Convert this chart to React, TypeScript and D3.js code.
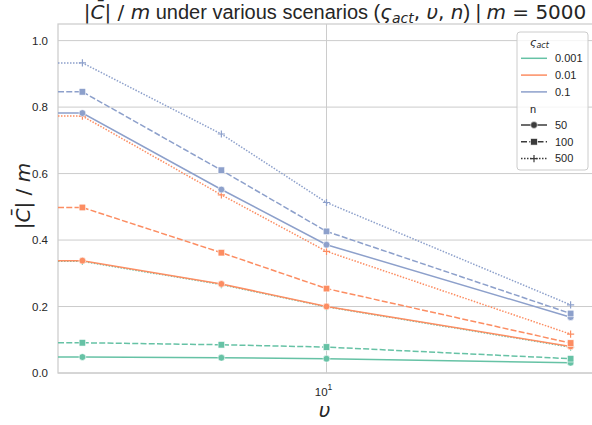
import React from "react";
import * as d3 from "d3";

const upsilon = [2, 5, 10, 50];
const actLevels = ["0.001", "0.01", "0.1"];
const nLevels = ["50", "100", "500"];
const actColors = ["#66c2a5", "#fc8d62", "#8da0cb"];
const yTicks = [0.0, 0.2, 0.4, 0.6, 0.8, 1.0];

const act0001_n50 = [0.048, 0.046, 0.043, 0.031];
const act0001_n100 = [0.091, 0.085, 0.078, 0.043];
const act0001_n500 = [0.336, 0.266, 0.199, 0.078];
const act001_n50 = [0.338, 0.268, 0.2, 0.08];
const act001_n100 = [0.498, 0.362, 0.254, 0.09];
const act001_n500 = [0.773, 0.536, 0.366, 0.117];
const act01_n50 = [0.782, 0.552, 0.386, 0.168];
const act01_n100 = [0.846, 0.61, 0.426, 0.179];
const act01_n500 = [0.933, 0.719, 0.513, 0.205];

const seriesValues = [
  [act0001_n50, act0001_n100, act0001_n500],
  [act001_n50, act001_n100, act001_n500],
  [act01_n50, act01_n100, act01_n500],
];

const W = 592;
const H = 425;
const left = 58;
const right = 595;
const top = 24;
const bottom = 373;

const LW = 1.5;
const dashes = ["", `${4 * LW},${1.5 * LW}`, `${1 * LW},${1 * LW}`];

const textFont = "'Liberation Sans', Arial, sans-serif";
const mathFont = "'DejaVu Sans', sans-serif";
const textColor = "#262626";
const gridColor = "#cccccc";

function Marker({ kind, x, y, color }: { kind: number; x: number; y: number; color: string }) {
  if (kind === 0) return <circle cx={x} cy={y} r={3.4} fill={color} stroke="#fff" strokeWidth={0.6} />;
  if (kind === 1)
    return <rect x={x - 3.3} y={y - 3.3} width={6.6} height={6.6} fill={color} stroke="#fff" strokeWidth={0.6} />;
  return (
    <path d={`M${x - 3.6},${y}H${x + 3.6}M${x},${y - 3.6}V${y + 3.6}`} stroke={color} strokeWidth={1.2} fill="none" />
  );
}

export default function App() {
  const lx = Math.log10(upsilon[0]);
  const hx = Math.log10(upsilon[upsilon.length - 1]);
  const m = (hx - lx) * 0.05;
  const x = d3.scaleLog().domain([Math.pow(10, lx - m), Math.pow(10, hx + m)]).range([left, right]);
  const y = d3.scaleLinear().domain([0, 1.05]).range([bottom, top]);
  const line = d3
    .line<[number, number]>()
    .x((d) => x(d[0]))
    .y((d) => y(d[1]));

  const xMin = x.domain()[0];
  const xTicks = [10];

  const series: { a: number; n: number; vals: number[] }[] = [];
  actLevels.forEach((_, a) => nLevels.forEach((_, n) => series.push({ a, n, vals: seriesValues[a][n] })));

  const legX = 517;
  const legY = 32;
  const rowH = 16.8;
  const handleX0 = 521;
  const handleX1 = 547;
  const labelX = 555;
  const handleColor = "#3b3b3b";

  return (
    <svg width={W} height={H} style={{ position: "absolute", left: 0, top: 0, background: "#fff" }}>
      <defs>
        <clipPath id="plotclip">
          <rect x={left} y={top - 6} width={right - left} height={bottom - top + 12} />
        </clipPath>
      </defs>
      <rect x={0} y={0} width={W} height={H} fill="#fff" />
      {/* grid */}
      {yTicks.map((t) => (
        <line key={"gy" + t} x1={left} x2={right} y1={y(t)} y2={y(t)} stroke={gridColor} strokeWidth={1} />
      ))}
      {xTicks.map((t) => (
        <line key={"gx" + t} x1={x(t)} x2={x(t)} y1={top} y2={bottom} stroke={gridColor} strokeWidth={1} />
      ))}
      {/* spines */}
      <rect x={left} y={top} width={right - left} height={bottom - top} fill="none" stroke={gridColor} strokeWidth={1.25} />

      {/* lines */}
      <g clipPath="url(#plotclip)">
        {series.map((s, i) => {
          const pts: [number, number][] = [[xMin, s.vals[0]], ...upsilon.map((u, j) => [u, s.vals[j]] as [number, number])];
          return (
            <g key={i}>
              <path
                d={line(pts) || ""}
                fill="none"
                stroke={actColors[s.a]}
                strokeWidth={LW}
                strokeDasharray={dashes[s.n]}
              />
              {upsilon.map((u, j) => (
                <Marker key={j} kind={s.n} x={x(u)} y={y(s.vals[j])} color={actColors[s.a]} />
              ))}
            </g>
          );
        })}
      </g>

      {/* y ticks */}
      {yTicks.map((t) => (
        <text
          key={"ty" + t}
          x={48}
          y={y(t)}
          dy="0.35em"
          textAnchor="end"
          fontFamily={textFont}
          fontSize={11.5}
          fill={textColor}
        >
          {t.toFixed(1)}
        </text>
      ))}
      {/* x ticks */}
      {xTicks.map((t) => (
        <text key={"tx" + t} x={x(t) - 3} y={396} textAnchor="middle" fontFamily={textFont} fontSize={11.5} fill={textColor}>
          10
          <tspan dy={-6} fontSize={8.5}>
            {Math.round(Math.log10(t))}
          </tspan>
        </text>
      ))}

      {/* axis labels */}
      <text x={(left + right) / 2 - 2} y={417} textAnchor="middle" fontFamily={mathFont} fontStyle="italic" fontSize={20} fill={textColor}>
        υ
      </text>
      <text
        transform={`translate(30,196) rotate(-90)`}
        textAnchor="middle"
        fontFamily={mathFont}
        fontSize={20}
        fill={textColor}
      >
        |<tspan fontStyle="italic">C̄</tspan>| / <tspan fontStyle="italic">m</tspan>
      </text>

      {/* title */}
      <text x={335} y={19} textAnchor="middle" fontFamily={textFont} fontSize={20} fill={textColor}>
        <tspan fontFamily={mathFont}>|</tspan>
        <tspan fontFamily={mathFont} fontStyle="italic">C̄</tspan>
        <tspan fontFamily={mathFont}>| / </tspan>
        <tspan fontFamily={mathFont} fontStyle="italic">m</tspan>
        <tspan> under various scenarios (</tspan>
        <tspan fontFamily={mathFont} fontStyle="italic">ς</tspan>
        <tspan fontFamily={mathFont} fontStyle="italic" fontSize={14} dy={4}>act</tspan>
        <tspan fontFamily={mathFont} dy={-4}>, </tspan>
        <tspan fontFamily={mathFont} fontStyle="italic">υ</tspan>
        <tspan fontFamily={mathFont}>, </tspan>
        <tspan fontFamily={mathFont} fontStyle="italic">n</tspan>
        <tspan>) | </tspan>
        <tspan fontFamily={mathFont} fontStyle="italic">m</tspan>
        <tspan fontFamily={mathFont}> = 5000</tspan>
      </text>

      {/* legend */}
      <rect x={legX} y={legY} width={71} height={138} rx={3} fill="#fff" fillOpacity={0.8} stroke={gridColor} strokeWidth={1} />
      <text x={530} y={legY + 10} dy="0.35em" fontFamily={mathFont} fontSize={11} fill={textColor}>
        <tspan fontStyle="italic">ς</tspan>
        <tspan fontStyle="italic" fontSize={8} dy={2}>act</tspan>
      </text>
      {actLevels.map((lab, i) => {
        const cy = legY + 26.3 + i * rowH;
        return (
          <g key={"la" + i}>
            <line x1={handleX0} x2={handleX1} y1={cy} y2={cy} stroke={actColors[i]} strokeWidth={LW} />
            <text x={labelX} y={cy} dy="0.35em" fontFamily={textFont} fontSize={11} fill={textColor}>
              {lab}
            </text>
          </g>
        );
      })}
      <text x={530} y={legY + 77} dy="0.35em" fontFamily={textFont} fontSize={11} fill={textColor}>
        n
      </text>
      {nLevels.map((lab, i) => {
        const cy = legY + 93 + i * rowH;
        return (
          <g key={"ln" + i}>
            <line
              x1={handleX0}
              x2={handleX1}
              y1={cy}
              y2={cy}
              stroke={handleColor}
              strokeWidth={LW}
              strokeDasharray={dashes[i]}
            />
            <Marker kind={i} x={(handleX0 + handleX1) / 2} y={cy} color={handleColor} />
            <text x={labelX} y={cy} dy="0.35em" fontFamily={textFont} fontSize={11} fill={textColor}>
              {lab}
            </text>
          </g>
        );
      })}
    </svg>
  );
}
